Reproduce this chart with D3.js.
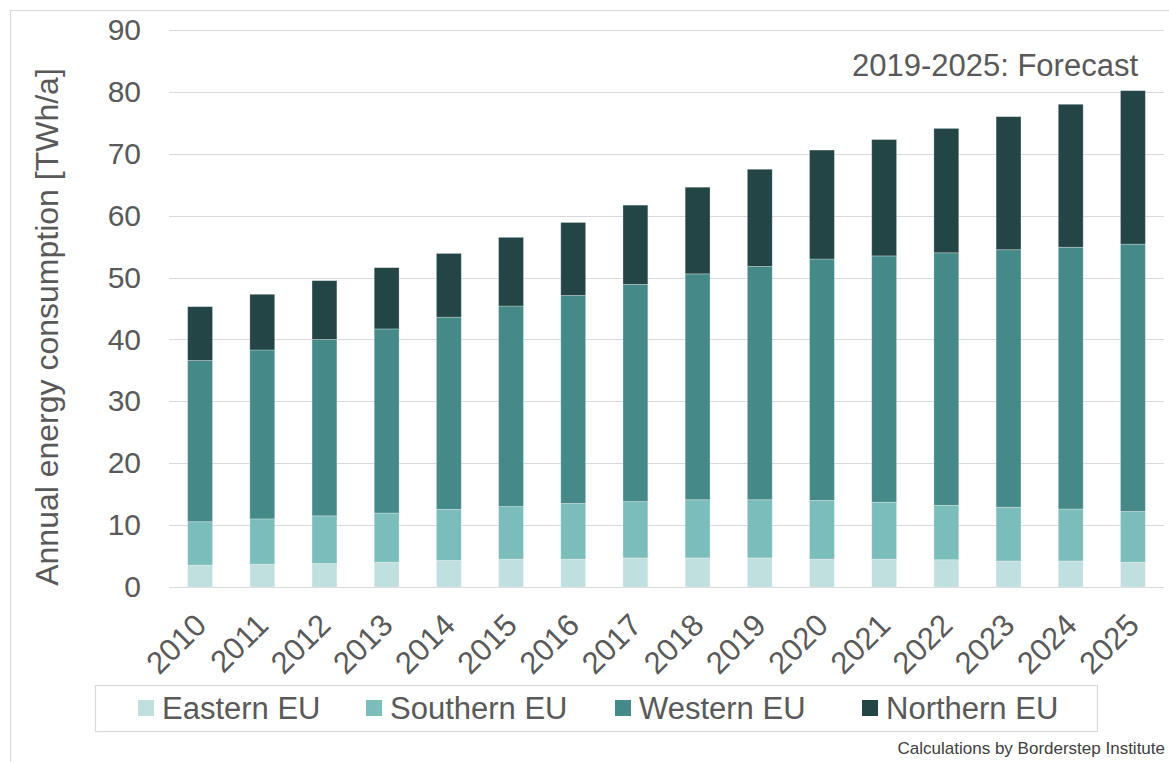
<!DOCTYPE html>
<html>
<head>
<meta charset="utf-8">
<script src="https://cdn.jsdelivr.net/npm/d3@7"></script>
<style>
  body { margin: 0; background: #fff; }
  svg { display: block; font-family: "Liberation Sans", Arial, sans-serif; }
</style>
</head>
<body>
<div id="main"></div>
<script>
// ---------------- data -----------------//

let years = ['2010', '2011', '2012', '2013', '2014', '2015', '2016', '2017',
  '2018', '2019', '2020', '2021', '2022', '2023', '2024', '2025'];

let eastern  = [3.55, 3.7, 3.8, 4.0, 4.3, 4.5, 4.5, 4.7, 4.7, 4.7, 4.5, 4.5, 4.4, 4.2, 4.2, 4.0];
let southern = [7.0, 7.3, 7.7, 7.95, 8.25, 8.5, 9.0, 9.1, 9.4, 9.4, 9.5, 9.2, 8.8, 8.7, 8.4, 8.2];
let western  = [26.05, 27.3, 28.5, 29.75, 31.05, 32.4, 33.6, 35.1, 36.5, 37.7, 39.0, 39.8, 40.8, 41.6, 42.3, 43.2];
let northern = [8.7, 9.0, 9.5, 9.9, 10.3, 11.1, 11.8, 12.8, 14.0, 15.7, 17.6, 18.8, 20.1, 21.5, 23.1, 24.8];

let seriesNames = ['Eastern EU', 'Southern EU', 'Western EU', 'Northern EU'];
let seriesKeys = ['eastern', 'southern', 'western', 'northern'];
let yTicks = [0, 10, 20, 30, 40, 50, 60, 70, 80, 90];

let colors = ['#c0dfdf', '#7bbdbb', '#458a89', '#234546'];

// ---------------- canvas -----------------//

let width = 1169;
let height = 762;
let textColor = '#595959';

let svg = d3.select("#main")
  .append("svg")
  .attr("width", width)
  .attr("height", height);

// outer chart frame
svg.append("rect")
  .attr("x", 10.5)
  .attr("y", 10.5)
  .attr("width", width + 20)
  .attr("height", height + 20)
  .attr("fill", "none")
  .attr("stroke", "#d9d9d9");

let rows = years.map(function(y, i) {
  return {year: y, eastern: eastern[i], southern: southern[i], western: western[i], northern: northern[i]};
});

let stacked = d3.stack().keys(seriesKeys)(rows);

// ---------------- scales -----------------//

let xScale = d3.scaleBand()
  .domain(years)
  .range([169, 1164])
  .paddingInner(0.6)
  .paddingOuter(0.3);

let yScale = d3.scaleLinear()
  .domain([0, 90])
  .range([587, 30]);

// gridlines
svg.append("g")
  .selectAll("line")
  .data(yTicks)
  .join("line")
  .attr("x1", 169)
  .attr("x2", 1164)
  .attr("y1", d => Math.round(yScale(d)) + 0.5)
  .attr("y2", d => Math.round(yScale(d)) + 0.5)
  .attr("stroke", "#d9d9d9")
  .attr("stroke-width", 1.2);

// y axis labels
let yAxis = d3.axisLeft(yScale).tickValues(yTicks).tickSize(0).tickPadding(0);
let yAxisG = svg.append("g")
  .attr("transform", `translate(${141}, 0)`)
  .call(yAxis);
yAxisG.select(".domain").remove();
yAxisG.selectAll("text")
  .attr("font-size", 30)
  .attr("fill", textColor)
  .attr("font-family", "Liberation Sans, Arial, sans-serif");

// ---------------- bars -----------------//

svg.append("g")
  .selectAll("g")
  .data(stacked)
  .join("g")
  .attr("fill", (d, i) => colors[i])
  .selectAll("rect")
  .data(d => d)
  .join("rect")
  .attr("x", d => xScale(d.data.year))
  .attr("y", d => yScale(d[1]))
  .attr("width", xScale.bandwidth())
  .attr("height", d => yScale(d[0]) - yScale(d[1]))
  .attr("stroke", "#ffffff")
  .attr("stroke-opacity", 0.35)
  .attr("stroke-width", 0.8);

// x axis labels (rotated)
let xAxis = d3.axisBottom(xScale).tickSize(0).tickPadding(0);
let xAxisG = svg.append("g")
  .attr("transform", `translate(0, ${587})`)
  .call(xAxis);
xAxisG.select(".domain").remove();
xAxisG.selectAll("text")
  .attr("font-size", 31)
  .attr("fill", textColor)
  .attr("font-family", "Liberation Sans, Arial, sans-serif")
  .attr("text-anchor", "end")
  .attr("dy", 0)
  .attr("transform", "translate(8, 40) rotate(-45)");

// y axis title
svg.append("text")
  .attr("transform", `translate(${58}, ${327}) rotate(-90)`)
  .attr("text-anchor", "middle")
  .attr("font-size", 32)
  .attr("fill", textColor)
  .text("Annual energy consumption [TWh/a]");

// forecast note
svg.append("text")
  .attr("x", 1138)
  .attr("y", 76)
  .attr("text-anchor", "end")
  .attr("font-size", 31)
  .attr("fill", textColor)
  .text("2019-2025: Forecast");

// ---------------- legend -----------------//

svg.append("rect")
  .attr("x", 95.5)
  .attr("y", 685.5)
  .attr("width", 1002)
  .attr("height", 46)
  .attr("fill", "#fff")
  .attr("stroke", "#d9d9d9")
  .attr("stroke-width", 1.2);

let legendX = [138, 366, 615, 862];

let legend = svg.append("g")
  .selectAll("g")
  .data(seriesNames)
  .join("g")
  .attr("transform", (d, i) => `translate(${legendX[i]}, ${700})`);

legend.append("rect")
  .attr("width", 16)
  .attr("height", 16)
  .attr("fill", (d, i) => colors[i]);

legend.append("text")
  .attr("x", 24)
  .attr("y", 19)
  .attr("font-size", 31)
  .attr("fill", textColor)
  .text(d => d);

// source note
svg.append("text")
  .attr("x", 1165)
  .attr("y", 754)
  .attr("text-anchor", "end")
  .attr("font-size", 17)
  .attr("fill", "#404040")
  .text("Calculations by Borderstep Institute");
</script>
</body>
</html>
